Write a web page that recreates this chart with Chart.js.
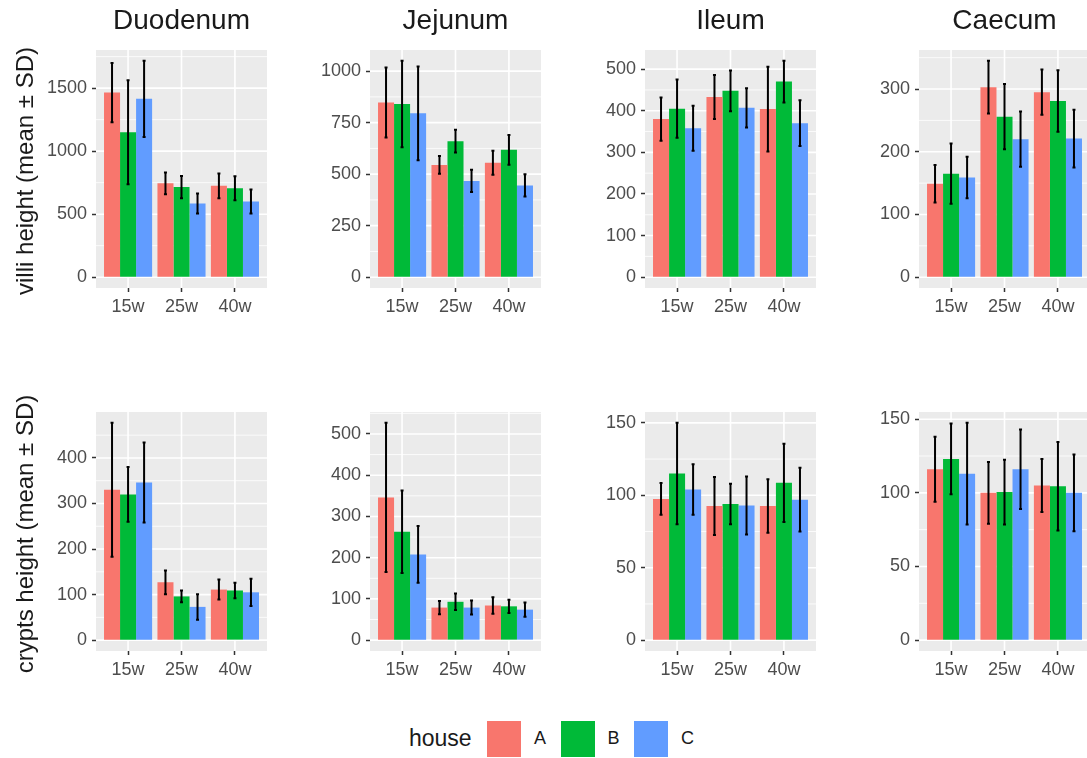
<!DOCTYPE html>
<html>
<head>
<meta charset="utf-8">
<script src="https://cdn.jsdelivr.net/npm/chart.js@4.4.1/dist/chart.umd.min.js"></script>
<style>
  html, body { margin: 0; padding: 0; background: #fff; overflow: hidden; }
  #wrap { position: relative; width: 1087px; height: 758px; overflow: hidden;
          font-family: "Liberation Sans", Arial, Helvetica, sans-serif; }
  #wrap canvas { position: absolute; }
  .ytitle { position: absolute; white-space: nowrap; font-size: 24px; color: #1a1a1a;
            transform: translate(-50%, -50%) rotate(-90deg); }
  .leg { position: absolute; }
</style>
</head>
<body>
<div id="wrap"></div>
<script>
// ---- data -------------------------------------------------------------
const ages = ['15w', '25w', '40w'];
const houses = ['A', 'B', 'C'];
const houseColors = ['#F8766D', '#00BA38', '#619CFF'];
const segments = ['Duodenum', 'Jejunum', 'Ileum', 'Caecum'];

// rows: house A, B, C; columns: 15w, 25w, 40w
const villiMeanDuodenum = [[1465, 745, 725], [1150, 715, 705], [1415, 585, 600]];
const villiSdDuodenum   = [[235, 86, 98], [413, 88, 95], [302, 80, 95]];
const villiMeanJejunum  = [[848, 545, 555], [840, 660, 618], [795, 467, 445]];
const villiSdJejunum    = [[170, 43, 58], [210, 55, 72], [228, 54, 54]];
const villiMeanIleum    = [[380, 433, 404], [405, 448, 470], [358, 407, 370]];
const villiSdIleum      = [[52, 53, 102], [70, 49, 50], [54, 47, 55]];
const villiMeanCaecum   = [[149, 303, 295], [165, 256, 281], [159, 220, 221]];
const villiSdCaecum     = [[30, 42, 36], [48, 52, 49], [33, 44, 46]];

const cryptsMeanDuodenum = [[330, 127, 111], [320, 96, 109], [346, 73, 105]];
const cryptsSdDuodenum   = [[147, 26, 22], [60, 13, 17], [88, 28, 30]];
const cryptsMeanJejunum  = [[346, 79, 84], [263, 93, 82], [208, 79, 74]];
const cryptsSdJejunum    = [[181, 16, 20], [100, 20, 16], [69, 17, 17]];
const cryptsMeanIleum    = [[97.5, 92.6, 92.6], [115, 94, 108.6], [104, 93, 97]];
const cryptsSdIleum      = [[11, 20, 18.5], [35, 14, 27], [17.5, 20, 22]];
const cryptsMeanCaecum   = [[116, 100, 105], [123, 100.5, 104.5], [113, 116, 100]];
const cryptsSdCaecum     = [[22, 21, 18], [24, 22, 30], [34.5, 27, 26]];

// y-axis breaks
const villiTicksDuodenum  = [0, 500, 1000, 1500];
const villiTicksJejunum   = [0, 250, 500, 750, 1000];
const villiTicksIleum     = [0, 100, 200, 300, 400, 500];
const villiTicksCaecum    = [0, 100, 200, 300];
const cryptsTicksDuodenum = [0, 100, 200, 300, 400];
const cryptsTicksJejunum  = [0, 100, 200, 300, 400, 500];
const cryptsTicksIleum    = [0, 50, 100, 150];
const cryptsTicksCaecum   = [0, 50, 100, 150];

const yTitles = ['villi height (mean \u00B1 SD)', 'crypts height (mean \u00B1 SD)'];

// ---- layout -----------------------------------------------------------
const FONT = '"Liberation Sans", Arial, Helvetica, sans-serif';
const PANEL_LEFT = [96, 370, 645, 919];
const PANEL_W = 171;
const ROW_TOP = [50, 412];
const PANEL_H = [238, 239];
const XAXIS_H = 40;

const panels = [
  [
    [villiMeanDuodenum, villiSdDuodenum, villiTicksDuodenum],
    [villiMeanJejunum, villiSdJejunum, villiTicksJejunum],
    [villiMeanIleum, villiSdIleum, villiTicksIleum],
    [villiMeanCaecum, villiSdCaecum, villiTicksCaecum]
  ],
  [
    [cryptsMeanDuodenum, cryptsSdDuodenum, cryptsTicksDuodenum],
    [cryptsMeanJejunum, cryptsSdJejunum, cryptsTicksJejunum],
    [cryptsMeanIleum, cryptsSdIleum, cryptsTicksIleum],
    [cryptsMeanCaecum, cryptsSdCaecum, cryptsTicksCaecum]
  ]
];

// grey panel with white major/minor grid lines
const panelBackground = {
  id: 'panelBackground',
  beforeDraw(chart, args, opts) {
    const { ctx, chartArea: a, scales: { x, y } } = chart;
    ctx.save();
    ctx.beginPath();
    ctx.rect(a.left, a.top, a.width, a.height);
    ctx.clip();
    ctx.fillStyle = '#EBEBEB';
    ctx.fillRect(a.left, a.top, a.width, a.height);
    ctx.strokeStyle = '#FFFFFF';
    const hline = (v, w) => {
      const py = y.getPixelForValue(v);
      ctx.lineWidth = w;
      ctx.beginPath(); ctx.moveTo(a.left, py); ctx.lineTo(a.right, py); ctx.stroke();
    };
    opts.minor.forEach(v => hline(v, 0.8));
    opts.major.forEach(v => hline(v, 1.6));
    ages.forEach((_, i) => {
      const px = x.getPixelForValue(i + 1);
      ctx.lineWidth = 1.6;
      ctx.beginPath(); ctx.moveTo(px, a.top); ctx.lineTo(px, a.bottom); ctx.stroke();
    });
    ctx.restore();
  }
};

// facet label centred over the panel
const stripLabel = {
  id: 'stripLabel',
  afterDraw(chart, args, opts) {
    if (!opts.text) return;
    const { ctx, chartArea: a } = chart;
    ctx.save();
    ctx.font = `28px ${FONT}`;
    ctx.fillStyle = '#1a1a1a';
    ctx.textAlign = 'center';
    ctx.textBaseline = 'middle';
    ctx.fillText(opts.text, (a.left + a.right) / 2, 21);
    ctx.restore();
  }
};

// mean ± SD whiskers on every bar
const errorBars = {
  id: 'errorBars',
  afterDatasetsDraw(chart) {
    const { ctx, scales: { y } } = chart;
    ctx.save();
    ctx.strokeStyle = '#000000';
    ctx.lineWidth = 2;
    chart.data.datasets.forEach((ds, k) => {
      chart.getDatasetMeta(k).data.forEach((bar, i) => {
        const m = ds.data[i].y, s = ds.sd[i];
        const yT = y.getPixelForValue(m + s);
        const yB = y.getPixelForValue(m - s);
        ctx.beginPath();
        ctx.moveTo(bar.x, yT); ctx.lineTo(bar.x, yB);
        ctx.moveTo(bar.x - 1.5, yT); ctx.lineTo(bar.x + 1.5, yT);
        ctx.moveTo(bar.x - 1.5, yB); ctx.lineTo(bar.x + 1.5, yB);
        ctx.stroke();
      });
    });
    ctx.restore();
  }
};

const wrap = document.getElementById('wrap');

panels.forEach((row, r) => {
  row.forEach(([means, sds, majors], c) => {
    const axW = c === 0 ? 96 : 70;
    const topPad = r === 0 ? 50 : 20;
    const canvas = document.createElement('canvas');
    canvas.width = axW + PANEL_W;
    canvas.height = topPad + PANEL_H[r] + XAXIS_H;
    canvas.style.left = (PANEL_LEFT[c] - axW) + 'px';
    canvas.style.top = (ROW_TOP[r] - topPad) + 'px';
    wrap.appendChild(canvas);

    // ggplot-style limits: data range from 0 to max(mean + SD), expanded by 5%
    let hi = 0;
    means.forEach((mrow, k) => mrow.forEach((m, i) => { hi = Math.max(hi, m + sds[k][i]); }));
    const yMin = -0.05 * hi, yMax = 1.05 * hi;
    const step = majors[1] - majors[0];
    const minors = [];
    for (let v = majors[0] - step / 2; v <= yMax; v += step) if (v >= yMin) minors.push(v);

    new Chart(canvas, {
      type: 'bar',
      data: {
        datasets: houses.map((h, k) => ({
          label: h,
          data: means[k].map((v, i) => ({ x: i + 1, y: v })),
          sd: sds[k],
          backgroundColor: houseColors[k],
          borderWidth: 0,
          categoryPercentage: 0.9,
          barPercentage: 1.0
        }))
      },
      options: {
        responsive: false,
        animation: false,
        devicePixelRatio: 1,
        events: [],
        layout: { padding: { top: topPad, left: 0, right: 0, bottom: 0 } },
        plugins: {
          legend: { display: false },
          tooltip: { enabled: false },
          title: { display: false },
          stripLabel: { text: r === 0 ? segments[c] : '' },
          panelBackground: { major: majors, minor: minors }
        },
        scales: {
          x: {
            type: 'linear',
            min: 0.4, max: 3.6,
            offset: false,
            afterBuildTicks: s => { s.ticks = ages.map((_, i) => ({ value: i + 1 })); },
            afterFit: s => { s.height = XAXIS_H; },
            ticks: {
              callback: v => ages[v - 1],
              autoSkip: false, maxRotation: 0,
              color: '#4D4D4D',
              font: { family: FONT, size: 18 },
              padding: 4
            },
            grid: { drawOnChartArea: false, drawTicks: true, tickLength: 4,
                    tickColor: '#333333', tickWidth: 1.5, offset: false },
            border: { display: false }
          },
          y: {
            type: 'linear',
            min: yMin, max: yMax,
            afterBuildTicks: s => { s.ticks = majors.map(v => ({ value: v })); },
            afterFit: s => { s.width = axW; },
            ticks: {
              callback: v => String(v),
              autoSkip: false,
              color: '#4D4D4D',
              font: { family: FONT, size: 18, lineHeight: 1.0 },
              padding: 5
            },
            grid: { drawOnChartArea: false, drawTicks: true, tickLength: 4,
                    tickColor: '#333333', tickWidth: 1.5 },
            border: { display: false }
          }
        }
      },
      plugins: [panelBackground, errorBars, stripLabel]
    });
  });
});

// y-axis titles, one per row, centred on the panel height
yTitles.forEach((t, r) => {
  const d = document.createElement('div');
  d.className = 'ytitle';
  d.textContent = t;
  d.style.left = '25px';
  d.style.top = (ROW_TOP[r] + PANEL_H[r] / 2 + 2) + 'px';
  wrap.appendChild(d);
});

// fill legend
const legTitle = document.createElement('div');
legTitle.className = 'leg';
legTitle.textContent = 'house';
legTitle.style.cssText += 'left:409px;top:724px;font-size:23px;color:#1a1a1a;line-height:28px;';
wrap.appendChild(legTitle);
houses.forEach((h, k) => {
  const x0 = 487 + k * 73.5;
  const box = document.createElement('div');
  box.className = 'leg';
  box.style.cssText += `left:${x0}px;top:721px;width:34px;height:36px;background:${houseColors[k]};`;
  wrap.appendChild(box);
  const lab = document.createElement('div');
  lab.className = 'leg';
  lab.textContent = h;
  lab.style.cssText += `left:${x0 + 47}px;top:727px;font-size:18px;color:#1a1a1a;line-height:22px;`;
  wrap.appendChild(lab);
});
</script>
</body>
</html>
